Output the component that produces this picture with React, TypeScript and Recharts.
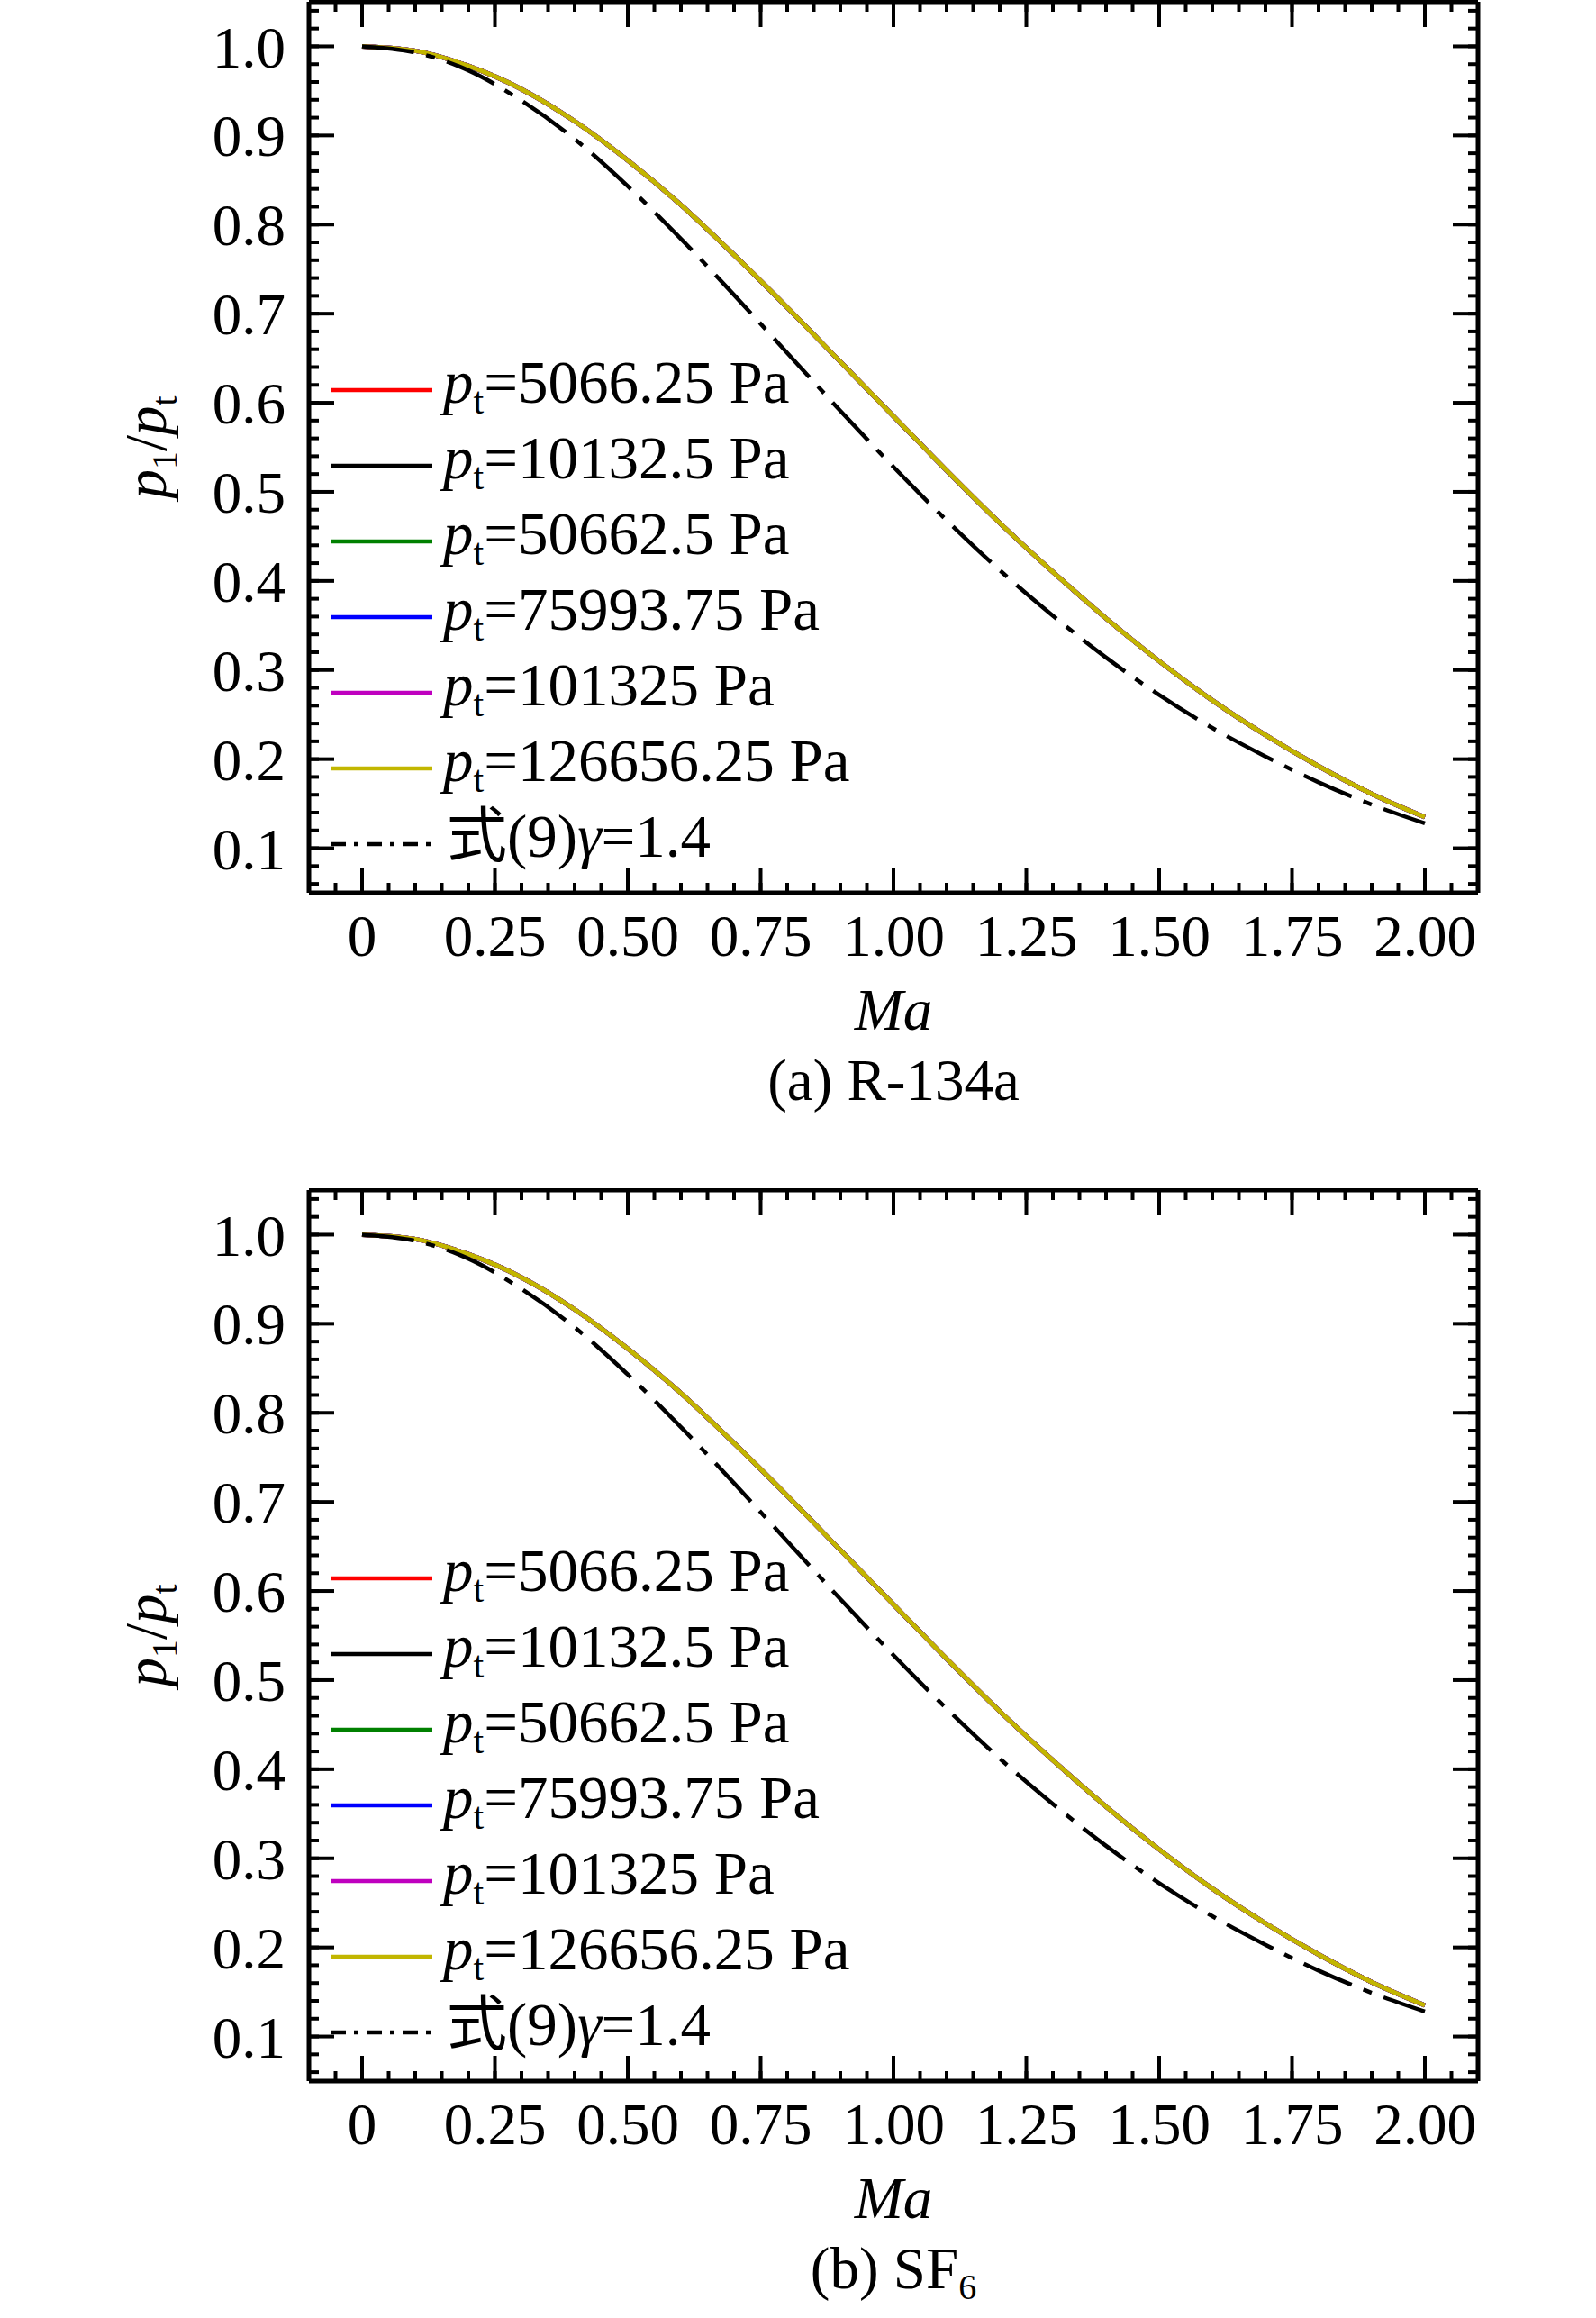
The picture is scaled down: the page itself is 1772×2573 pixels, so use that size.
import { LineChart, Line, XAxis, YAxis, Label } from "recharts";
import { FC, ReactNode } from "react";

// Ma grid and pressure ratio p1/pt
const maValues = [0, 0.1, 0.2, 0.3, 0.4, 0.5, 0.6, 0.7, 0.8, 0.9, 1.0, 1.1, 1.2, 1.3, 1.4, 1.5, 1.6, 1.7, 1.8, 1.9, 2.0];
const r134aRatio = [1, 0.995, 0.978, 0.952, 0.916, 0.872, 0.822, 0.766, 0.707, 0.646, 0.585, 0.524, 0.465, 0.41, 0.358, 0.31, 0.266, 0.227, 0.192, 0.161, 0.135];
const sf6Ratio = [1, 0.995, 0.978, 0.952, 0.916, 0.872, 0.822, 0.766, 0.707, 0.646, 0.585, 0.524, 0.465, 0.41, 0.358, 0.31, 0.266, 0.227, 0.192, 0.161, 0.135];
const idealRatio = [1, 0.993, 0.973, 0.939, 0.896, 0.843, 0.784, 0.721, 0.656, 0.591, 0.528, 0.468, 0.412, 0.361, 0.314, 0.272, 0.235, 0.203, 0.174, 0.149, 0.128];

const pressureLabels = ["5066.25", "10132.5", "50662.5", "75993.75", "101325", "126656.25"];
const seriesColors = ["#ff0000", "#000000", "#008000", "#0000ff", "#bf00bf", "#c2b600"];

const xMajor = [0, 0.25, 0.5, 0.75, 1, 1.25, 1.5, 1.75, 2];
const xMinor = Array.from({ length: 43 }, (_, i) => +(-0.05 + i * 0.05).toFixed(2));
const yMajor = [0.1, 0.2, 0.3, 0.4, 0.5, 0.6, 0.7, 0.8, 0.9, 1.0];
const yMinor = Array.from({ length: 50 }, (_, i) => +(0.06 + i * 0.02).toFixed(2));

const serif = "'Liberation Serif', 'Times New Roman', 'Noto Sans CJK SC', serif";
const W = 1772;
const H = 1319;

const fmtX = (v: number) => (v === 0 ? "0" : v.toFixed(2));
const fmtY = (v: number) => v.toFixed(1);
const blank = () => "";

const tickStyle = { fontSize: 65, fontFamily: serif, fill: "#000" };
const tickLine = { stroke: "#000", strokeWidth: 4 };
const axisLine = { stroke: "#000", strokeWidth: 5 };

const XTitle = ({ viewBox, caption }: any) => {
  const cx = viewBox.x + viewBox.width / 2;
  return (
    <g fontFamily={serif} fontSize={65} fill="#000">
      <text x={cx} y={viewBox.y + 152} textAnchor="middle" fontStyle="italic">
        Ma
      </text>
      <text x={cx} y={viewBox.y + 230} textAnchor="middle">
        {caption}
      </text>
    </g>
  );
};

const YTitle = ({ viewBox }: any) => {
  const cx = viewBox.x - 158;
  const cy = viewBox.y + viewBox.height / 2;
  return (
    <text
      x={cx}
      y={cy}
      transform={`rotate(-90 ${cx} ${cy})`}
      textAnchor="middle"
      fontFamily={serif}
      fontSize={65}
      fill="#000"
    >
      <tspan fontStyle="italic">p</tspan>
      <tspan fontSize={40} dy={12}>1</tspan>
      <tspan dy={-12}>/</tspan>
      <tspan fontStyle="italic">p</tspan>
      <tspan fontSize={40} dy={12}>t</tspan>
    </text>
  );
};

const LegendBox: FC = () => {
  const rowY = (i: number) => 433 + i * 84;
  return (
    <svg
      width={W}
      height={H}
      style={{ position: "absolute", left: 0, top: 0, pointerEvents: "none" }}
      fontFamily={serif}
      fontSize={67}
    >
      {pressureLabels.map((p, i) => (
        <g key={p}>
          <line x1={367} x2={480} y1={rowY(i)} y2={rowY(i)} stroke={seriesColors[i]} strokeWidth={4.5} />
          <text x={492} y={rowY(i) + 14} fill="#000">
            <tspan fontStyle="italic">p</tspan>
            <tspan fontSize={42} dy={12}>t</tspan>
            <tspan dy={-12}>={p} Pa</tspan>
          </text>
        </g>
      ))}
      <line x1={367} x2={480} y1={rowY(6)} y2={rowY(6)} stroke="#000" strokeWidth={4.5} strokeDasharray="17 9 5 9" />
      <text x={496} y={rowY(6) + 14} fill="#000">
        式(9)<tspan fontStyle="italic">γ</tspan>=1.4
      </text>
    </svg>
  );
};

type PanelProps = { ratio: number[]; caption: ReactNode };

const Panel: FC<PanelProps> = ({ ratio, caption }) => {
  const rows = maValues.map((ma, i) => ({ ma, real: ratio[i], ideal: idealRatio[i] }));
  return (
    <div style={{ position: "relative", width: W, height: H }}>
      <LineChart width={W} height={H} data={rows} margin={{ top: 0, right: 129, bottom: 326, left: 341 }}>
        <XAxis xAxisId="main" type="number" dataKey="ma" domain={[-0.1, 2.1]} allowDataOverflow orientation="bottom" height={1} ticks={xMajor} interval={0} tickSize={-28} tickMargin={52} tickFormatter={fmtX} tick={tickStyle} axisLine={axisLine} tickLine={tickLine}>
          <Label content={(props: any) => <XTitle {...props} caption={caption} />} />
        </XAxis>
        <XAxis xAxisId="minB" type="number" dataKey="ma" domain={[-0.1, 2.1]} allowDataOverflow orientation="bottom" height={1} ticks={xMinor} interval={0} tickSize={-12} tickFormatter={blank} axisLine={false} tickLine={tickLine} />
        <XAxis xAxisId="majT" type="number" dataKey="ma" domain={[-0.1, 2.1]} allowDataOverflow orientation="top" height={1} ticks={xMajor} interval={0} tickSize={-28} tickFormatter={blank} axisLine={axisLine} tickLine={tickLine} />
        <XAxis xAxisId="minT" type="number" dataKey="ma" domain={[-0.1, 2.1]} allowDataOverflow orientation="top" height={1} ticks={xMinor} interval={0} tickSize={-12} tickFormatter={blank} axisLine={false} tickLine={tickLine} />
        <YAxis yAxisId="main" type="number" domain={[0.05, 1.05]} allowDataOverflow orientation="left" width={1} ticks={yMajor} interval={0} tickSize={-28} tickMargin={54} tickFormatter={fmtY} tick={tickStyle} axisLine={axisLine} tickLine={tickLine}>
          <Label content={(props: any) => <YTitle {...props} />} />
        </YAxis>
        <YAxis yAxisId="minL" type="number" domain={[0.05, 1.05]} allowDataOverflow orientation="left" width={1} ticks={yMinor} interval={0} tickSize={-12} tickFormatter={blank} axisLine={false} tickLine={tickLine} />
        <YAxis yAxisId="majR" type="number" domain={[0.05, 1.05]} allowDataOverflow orientation="right" width={1} ticks={yMajor} interval={0} tickSize={-28} tickFormatter={blank} axisLine={axisLine} tickLine={tickLine} />
        <YAxis yAxisId="minR" type="number" domain={[0.05, 1.05]} allowDataOverflow orientation="right" width={1} ticks={yMinor} interval={0} tickSize={-12} tickFormatter={blank} axisLine={false} tickLine={tickLine} />
        {pressureLabels.map((p, i) => (
          <Line
            key={p}
            xAxisId="main"
            yAxisId="main"
            type="monotone"
            dataKey="real"
            name={`pt=${p} Pa`}
            stroke={seriesColors[i]}
            strokeWidth={5}
            dot={false}
            isAnimationActive={false}
          />
        ))}
        <Line
          xAxisId="main"
          yAxisId="main"
          type="monotone"
          dataKey="ideal"
          name="式(9)γ=1.4"
          stroke="#000"
          strokeWidth={4.5}
          strokeDasharray="58 14 10 14"
          dot={false}
          isAnimationActive={false}
        />
      </LineChart>
      <LegendBox />
    </div>
  );
};

const App: FC = () => {
  return (
    <div style={{ position: "absolute", left: 0, top: 0, width: W, height: 2573, background: "#fff" }}>
      <Panel ratio={r134aRatio} caption="(a) R-134a" />
      <Panel
        ratio={sf6Ratio}
        caption={
          <>
            (b) SF<tspan fontSize={40} dy={12}>6</tspan>
          </>
        }
      />
    </div>
  );
};

export default App;
